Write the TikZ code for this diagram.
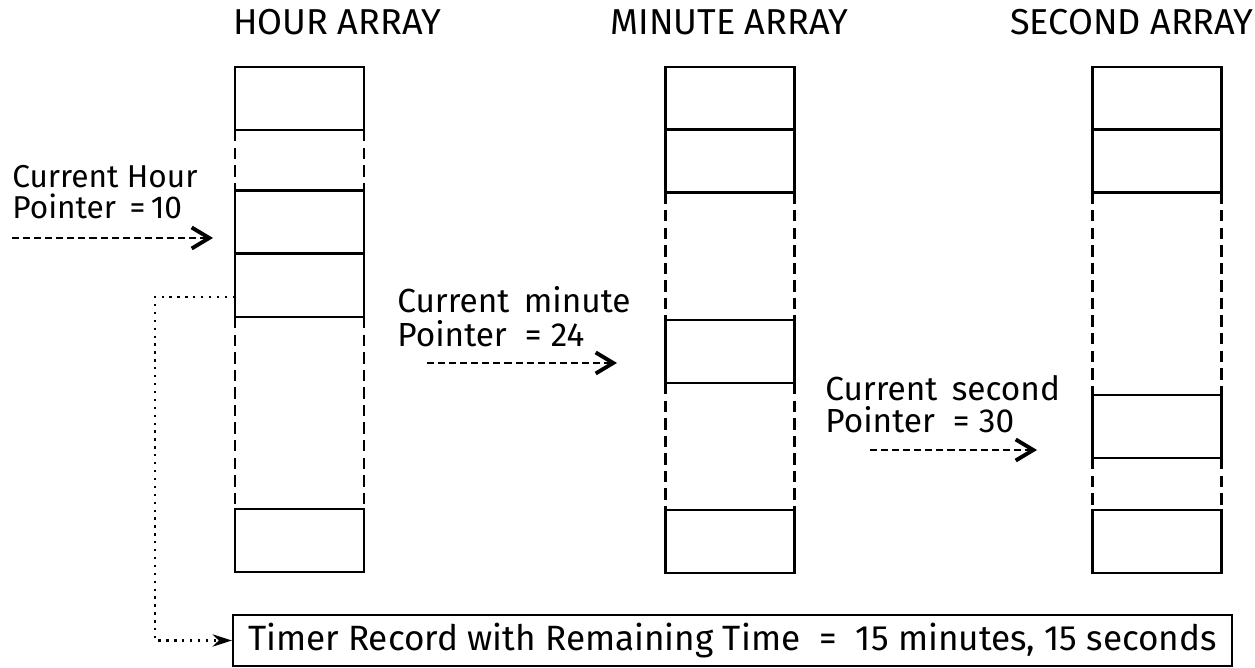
\documentclass[tikz,border=0pt]{standalone}
\usepackage{fontspec}
\setmainfont{Fira Sans}
\usetikzlibrary{arrows.meta}
\tikzset{
  cell/.style={draw, line width=1.4pt, minimum width=2.58cm, minimum height=1.26cm,
    inner sep=0pt, outer sep=0pt},
  side/.style={line width=1.3pt, dash pattern=on 6.5pt off 3.5pt},
  title/.style={anchor=base west, inner sep=0pt, font=\fontsize{20.5}{24}\selectfont},
  lbl/.style={anchor=north west, align=left, inner sep=0pt},
  ptr/.style={line width=1pt, dash pattern=on 4pt off 2.3pt,
    -{Straight Barb[length=10pt,width=12pt,line width=2.2pt]}},
  link/.style={line width=1.5pt, dash pattern=on 1.3pt off 3.2pt,
    -{Stealth[length=11pt,width=7pt]}},
}
\begin{document}
\begin{tikzpicture}[x=0.02cm, y=-0.02cm]
  \useasboundingbox (0,0) rectangle (1255,668);

  % array titles
  \node[title] (ht) at (233,35) {HOUR ARRAY};
  \node[title] (mt) at (610,35) {MINUTE ARRAY};
  \node[title] (st) at (1010,35) {SECOND ARRAY};

  % hour array
  \node[cell] (h1) at (299.5,98.5) {};
  \node[cell] (h2) at (299.5,222) {};
  \node[cell] (h3) at (299.5,285.5) {};
  \node[cell] (h4) at (299.5,540.5) {};

  % minute array
  \node[cell] (m1) at (730,98.5) {};
  \node[cell] (m2) at (730,161) {};
  \node[cell] (m3) at (730,351.5) {};
  \node[cell] (m4) at (730,541.5) {};

  % second array
  \node[cell] (s1) at (1157,98.5) {};
  \node[cell] (s2) at (1157,161) {};
  \node[cell] (s3) at (1157,426.5) {};
  \node[cell] (s4) at (1157,541.5) {};

  % gaps between used cells
  \begin{scope}[side]
    \draw (h1.south west) -- (h2.north west);
    \draw (h1.south east) -- (h2.north east);
    \draw (h3.south west) -- (h4.north west);
    \draw (h3.south east) -- (h4.north east);
    \draw (m2.south west) -- (m3.north west);
    \draw (m2.south east) -- (m3.north east);
    \draw (m3.south west) -- (m4.north west);
    \draw (m3.south east) -- (m4.north east);
    \draw (s2.south west) -- (s3.north west);
    \draw (s2.south east) -- (s3.north east);
    \draw (s3.south west) -- (s4.north west);
    \draw (s3.south east) -- (s4.north east);
  \end{scope}

  % pointers
  \node[lbl, font=\fontsize{18}{17.5}\selectfont] (hlbl) at (12,165)
    {Current Hour\\Pointer \,=\,10};
  \coordinate (hp0) at (12,238);
  \coordinate (hp1) at (213,238);
  \draw[ptr] (hp0) -- (hp1);

  \node[lbl, font=\fontsize{19}{19.3}\selectfont] (mlbl) at (397,286)
    {Current \,minute\\Pointer \;=\;24};
  \coordinate (mp0) at (427,363);
  \coordinate (mp1) at (617,363);
  \draw[ptr] (mp0) -- (mp1);

  \node[lbl, font=\fontsize{19}{18.1}\selectfont] (slbl) at (825,375)
    {Current \,second\\Pointer \;=\;30};
  \coordinate (sp0) at (870,450);
  \coordinate (sp1) at (1037,450);
  \draw[ptr] (sp0) -- (sp1);

  % timer record
  \node[draw, line width=1.4pt, minimum width=19.98cm, minimum height=1.02cm,
    inner sep=0pt, font=\fontsize{20}{24}\selectfont] (timer) at (732.5,640.5)
    {Timer Record with Remaining Time \;=\; 15 minutes, 15 seconds};
  \coordinate (tap) at (235,297);
  \coordinate (bend) at (155,640.5);
  \draw[link] (tap) -| (bend) -- (timer.west);
\end{tikzpicture}
\end{document}
